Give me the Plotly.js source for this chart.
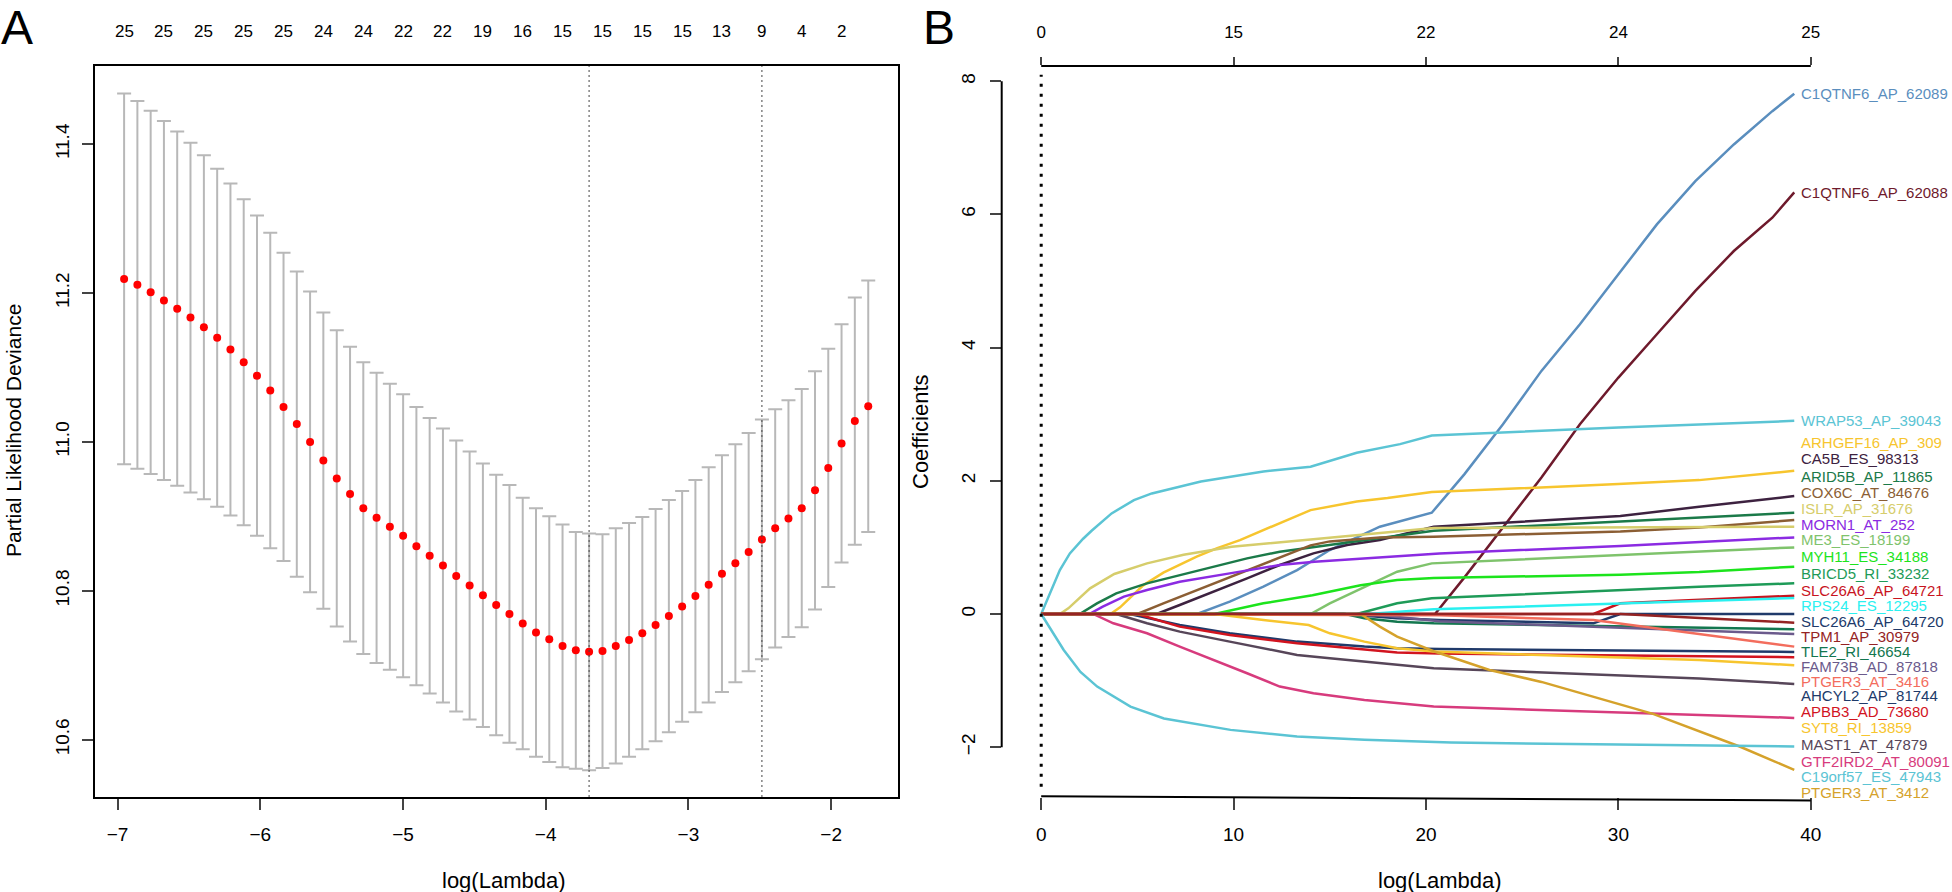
<!DOCTYPE html>
<html>
<head>
<meta charset="utf-8">
<script src="https://cdn.plot.ly/plotly-3.0.1.min.js"></script>
<style>
  html, body { margin: 0; padding: 0; background: #fff; }
  #chart { width: 1952px; height: 892px; }
</style>
</head>
<body>
<div id="chart"></div>
<script>
// ---- panel A: cross-validated partial likelihood deviance ----
var logLambda = [-6.954, -6.861, -6.768, -6.675, -6.582, -6.489, -6.395, -6.302, -6.209, -6.116,
  -6.023, -5.930, -5.837, -5.744, -5.651, -5.558, -5.464, -5.371, -5.278, -5.185,
  -5.092, -4.999, -4.906, -4.813, -4.720, -4.627, -4.533, -4.440, -4.347, -4.254,
  -4.161, -4.068, -3.975, -3.882, -3.789, -3.696, -3.602, -3.509, -3.416, -3.323,
  -3.230, -3.137, -3.044, -2.951, -2.858, -2.765, -2.671, -2.578, -2.485, -2.392,
  -2.299, -2.206, -2.113, -2.020, -1.927, -1.834, -1.740];
var cvMean = [11.219, 11.211, 11.201, 11.190, 11.179, 11.167, 11.154, 11.140, 11.124, 11.107,
  11.089, 11.069, 11.047, 11.024, 11.000, 10.975, 10.951, 10.930, 10.911, 10.898,
  10.886, 10.874, 10.860, 10.847, 10.834, 10.820, 10.807, 10.794, 10.781, 10.769,
  10.756, 10.744, 10.735, 10.726, 10.720, 10.718, 10.719, 10.726, 10.734, 10.743,
  10.754, 10.766, 10.779, 10.793, 10.808, 10.823, 10.837, 10.852, 10.869, 10.884,
  10.897, 10.911, 10.935, 10.965, 10.998, 11.028, 11.048];
var cvSd = [0.249, 0.247, 0.244, 0.241, 0.238, 0.235, 0.231, 0.227, 0.223, 0.219,
  0.215, 0.212, 0.207, 0.205, 0.202, 0.199, 0.199, 0.198, 0.196, 0.195,
  0.192, 0.190, 0.187, 0.185, 0.184, 0.182, 0.180, 0.177, 0.175, 0.173,
  0.169, 0.167, 0.165, 0.163, 0.159, 0.159, 0.157, 0.158, 0.157, 0.156,
  0.156, 0.156, 0.155, 0.156, 0.158, 0.159, 0.160, 0.160, 0.161, 0.160,
  0.159, 0.160, 0.160, 0.160, 0.160, 0.166, 0.169];
var lambdaMin = -3.696;
var lambda1se = -2.485;
// number of non-zero coefficients, printed above every third lambda
var nzCounts = [25, 25, 25, 25, 25, 24, 24, 22, 22, 19, 16, 15, 15, 15, 15, 13, 9, 4, 2];

// ---- panel B: coefficient paths ----
var normTicks = [0, 10, 20, 30, 40];
var dfTicks = ['0', '15', '22', '24', '25'];
var coefTicks = [-2, 0, 2, 4, 6, 8];

var geneNames = ['C1QTNF6_AP_62089', 'C1QTNF6_AP_62088', 'WRAP53_AP_39043', 'ARHGEF16_AP_309',
  'CA5B_ES_98313', 'ARID5B_AP_11865', 'COX6C_AT_84676', 'ISLR_AP_31676', 'MORN1_AT_252',
  'ME3_ES_18199', 'MYH11_ES_34188', 'BRICD5_RI_33232', 'SLC26A6_AP_64721', 'RPS24_ES_12295',
  'SLC26A6_AP_64720', 'TPM1_AP_30979', 'TLE2_RI_46654', 'FAM73B_AD_87818', 'PTGER3_AT_3416',
  'AHCYL2_AP_81744', 'APBB3_AD_73680', 'SYT8_RI_13859', 'MAST1_AT_47879', 'GTF2IRD2_AT_80091',
  'C19orf57_ES_47943', 'PTGER3_AT_3412'];

var pathX = [
  [0, 8.1, 9.8, 11.55, 13.3, 15.0, 17.6, 20.3, 22, 24, 26, 28, 30, 32, 34, 36, 38, 39.14],
  [0, 20.47, 22, 24, 26, 28, 30, 32, 34, 36, 38, 39.14],
  [0, 0.45, 0.97, 1.49, 2.18, 2.62, 3.66, 4.82, 5.75, 8.3, 11.55, 14.0, 16.4, 18.65, 20.3, 30.0, 39.14],
  [0, 3.6, 4.1, 5.3, 6.35, 8.08, 9.15, 10.33, 14.0, 16.4, 18.0, 20.3, 30.0, 34.2, 39.14],
  [0, 6.0, 7.2, 9.0, 10.7, 12.4, 14.15, 15.9, 17.6, 20.4, 30.1, 34.2, 39.14],
  [0, 2.0, 2.9, 3.9, 5.5, 7.2, 9.0, 10.7, 12.4, 14.1, 16.8, 20.4, 30.1, 39.14],
  [0, 5.0, 6.35, 8.1, 9.8, 11.55, 13.3, 14.0, 15.0, 17.6, 20.4, 30.1, 34.2, 39.14],
  [0, 0.97, 1.41, 2.54, 3.8, 5.5, 7.4, 9.9, 14.0, 17.6, 20.4, 39.14],
  [0, 2.5, 3.2, 4.3, 5.5, 7.2, 9.8, 12.4, 14.2, 16.8, 20.7, 30.1, 39.14],
  [0, 14.0, 15.0, 16.8, 18.5, 20.3, 34.2, 39.14],
  [0, 9.0, 11.55, 14.1, 16.6, 18.5, 20.4, 30.1, 34.2, 39.14],
  [0, 16.4, 18.5, 20.3, 34.2, 39.14],
  [0, 28.7, 30.1, 39.14],
  [0, 17.0, 20.4, 30.1, 39.14],
  [0, 15.7, 18.5, 20.7, 28.7, 30.1, 39.14],
  [0, 30.1, 39.14],
  [0, 15.8, 16.8, 18.5, 20.4, 34.2, 39.14],
  [0, 17.0, 20.7, 39.14],
  [0, 20.7, 28.7, 34.2, 39.14],
  [0, 4.6, 7.2, 9.8, 13.3, 16.8, 18.5, 20.7, 39.14],
  [0, 5.0, 7.2, 9.8, 13.3, 16.8, 18.5, 20.7, 39.14],
  [0, 9.0, 11.55, 13.9, 15.0, 16.8, 18.5, 20.4, 34.2, 39.14],
  [0, 3.9, 5.5, 7.2, 9.8, 13.3, 15.0, 16.8, 18.5, 20.4, 34.2, 39.14],
  [0, 2.7, 3.75, 5.5, 7.2, 9.0, 10.7, 12.4, 14.15, 16.8, 18.5, 20.4, 39.14],
  [0, 0.45, 1.17, 2.04, 2.91, 4.64, 6.38, 9.84, 13.3, 16.8, 21.3, 30.0, 39.14],
  [0, 16.6, 17.6, 18.5, 20.4, 23.3, 26.0, 28.6, 31.8, 36.3, 39.14]
];
var pathY = [
  [0, 0, 0.185, 0.41, 0.66, 0.96, 1.31, 1.52, 2.1, 2.85, 3.65, 4.35, 5.1, 5.85, 6.5, 7.05, 7.55, 7.81],
  [0, 0, 0.55, 1.3, 2.05, 2.85, 3.55, 4.2, 4.85, 5.45, 5.95, 6.33],
  [0, 0.31, 0.66, 0.91, 1.13, 1.25, 1.51, 1.71, 1.81, 1.99, 2.14, 2.21, 2.42, 2.55, 2.68, 2.80, 2.90],
  [0, 0, 0.1, 0.43, 0.62, 0.86, 0.99, 1.11, 1.56, 1.69, 1.74, 1.83, 1.95, 2.01, 2.15],
  [0, 0, 0.135, 0.335, 0.535, 0.735, 0.91, 1.035, 1.11, 1.31, 1.47, 1.61, 1.77],
  [0, 0, 0.16, 0.31, 0.46, 0.585, 0.71, 0.835, 0.935, 1.0, 1.11, 1.25, 1.39, 1.52],
  [0, 0, 0.16, 0.36, 0.56, 0.76, 0.96, 1.03, 1.09, 1.15, 1.16, 1.24, 1.30, 1.41],
  [0, 0, 0.085, 0.385, 0.6, 0.76, 0.89, 1.01, 1.12, 1.21, 1.29, 1.31],
  [0, 0, 0.11, 0.26, 0.36, 0.485, 0.61, 0.735, 0.785, 0.835, 0.91, 1.02, 1.15],
  [0, 0, 0.16, 0.41, 0.635, 0.76, 0.93, 1.0],
  [0, 0, 0.16, 0.28, 0.43, 0.51, 0.54, 0.59, 0.63, 0.71],
  [0, 0, 0.16, 0.235, 0.41, 0.46],
  [0, 0, 0.16, 0.275],
  [0, 0, 0.07, 0.16, 0.24],
  [0, 0, -0.065, -0.09, -0.14, 0, 0],
  [0, 0, -0.13],
  [0, 0, -0.065, -0.115, -0.14, -0.21, -0.23],
  [0, 0, -0.11, -0.30],
  [0, -0.02, -0.09, -0.30, -0.49],
  [0, 0, -0.165, -0.29, -0.415, -0.49, -0.515, -0.525, -0.57],
  [0, 0, -0.19, -0.315, -0.44, -0.54, -0.58, -0.595, -0.65],
  [0, 0, -0.09, -0.165, -0.29, -0.415, -0.515, -0.565, -0.69, -0.77],
  [0, 0, -0.14, -0.265, -0.415, -0.615, -0.665, -0.715, -0.765, -0.815, -0.97, -1.05],
  [0, 0, -0.14, -0.29, -0.49, -0.69, -0.89, -1.09, -1.19, -1.29, -1.34, -1.39, -1.56],
  [0, -0.21, -0.54, -0.87, -1.09, -1.39, -1.57, -1.74, -1.84, -1.89, -1.93, -1.96, -1.99],
  [0, 0, -0.19, -0.34, -0.56, -0.84, -1.02, -1.24, -1.5, -1.99, -2.34]
];
// where the gene names are written at the right-hand end
var labelY = [7.82, 6.33, 2.90, 2.57, 2.33, 2.07, 1.83, 1.58, 1.34, 1.12, 0.87, 0.61, 0.35,
  0.12, -0.12, -0.34, -0.57, -0.79, -1.01, -1.23, -1.47, -1.70, -1.96, -2.22, -2.44, -2.68];

var geneColors = ['#5a8ebe', '#6e1a2c', '#5bc4d4', '#f7c52e', '#3d2240', '#1b7a49', '#8b5e34',
  '#d6cd6b', '#8b2be2', '#7fc36c', '#1ce41c', '#1e9b58', '#c8141e', '#2af0f0', '#203a6a',
  '#952323', '#13774f', '#6b5a8c', '#f36d5d', '#203a6a', '#d2141f', '#f7c52e', '#574659',
  '#d73b7d', '#5bc4d4', '#d5a22b'];

var W = 1952, H = 892;
var FONT = 'Liberation Sans, Arial, Helvetica, sans-serif';
function px(x) { return x / W; }
function py(y) { return 1 - y / H; }

var traces = [];
traces.push({
  x: logLambda, y: cvMean, xaxis: 'x', yaxis: 'y',
  type: 'scatter', mode: 'markers',
  marker: {color: '#ff0000', size: 8},
  error_y: {type: 'data', array: cvSd, visible: true, color: '#b8b8b8', thickness: 2, width: 7},
  hoverinfo: 'skip'
});

// draw TPM1 last so its zero stretch sits on top, like the original;
// the lower teal path goes on the top (df) axis so that axis gets drawn
var order = [];
for (var i = 0; i < geneNames.length; i++) if (geneNames[i] !== 'TPM1_AP_30979') order.push(i);
order.push(geneNames.indexOf('TPM1_AP_30979'));
order.forEach(function (g) {
  traces.push({
    x: pathX[g], y: pathY[g],
    xaxis: geneNames[g] === 'C19orf57_ES_47943' ? 'x3' : 'x2', yaxis: 'y2',
    type: 'scatter', mode: 'lines', name: geneNames[g],
    line: {color: geneColors[g], width: 2.5},
    hoverinfo: 'skip'
  });
});

var annotations = [];
function note(o) {
  o.showarrow = false;
  if (!o.xanchor) o.xanchor = 'center';
  o.yanchor = 'middle';
  annotations.push(o);
}
note({text: 'A', x: px(17), y: py(28), xref: 'paper', yref: 'paper', font: {size: 48, family: FONT}});
note({text: 'B', x: px(939), y: py(28), xref: 'paper', yref: 'paper', font: {size: 48, family: FONT}});
nzCounts.forEach(function (n, k) {
  note({text: String(n), x: logLambda[k * 3], y: py(31), xref: 'x', yref: 'paper',
    font: {size: 17, family: FONT}});
});
geneNames.forEach(function (name, g) {
  note({text: name, x: 39.4, y: labelY[g], xref: 'x2', yref: 'y2', xanchor: 'left',
    font: {size: 15, family: FONT, color: geneColors[g]}});
});
note({text: 'log(Lambda)', x: px(504), y: py(880), xref: 'paper', yref: 'paper', font: {size: 22, family: FONT}});
note({text: 'log(Lambda)', x: px(1440), y: py(880), xref: 'paper', yref: 'paper', font: {size: 22, family: FONT}});
note({text: 'Partial Likelihood Deviance', x: px(13), y: py(431), xref: 'paper', yref: 'paper',
  textangle: -90, font: {size: 21, family: FONT}});
note({text: 'Coefficients', x: px(920), y: py(432), xref: 'paper', yref: 'paper',
  textangle: -90, font: {size: 22, family: FONT}});

var yDom = [py(797), py(66)];
var xRangeB = [(1001.7 - 1041.2) / 19.24, (1952 - 1041.2) / 19.24];

var layout = {
  width: W, height: H,
  margin: {l: 0, r: 0, t: 0, b: 0},
  paper_bgcolor: '#fff', plot_bgcolor: '#fff',
  showlegend: false,
  font: {family: FONT, color: '#000'},
  xaxis: {
    domain: [px(95), px(897.5)], range: [-7.158, -1.535], anchor: 'y',
    tickvals: [-7, -6, -5, -4, -3, -2], ticks: 'outside', ticklen: 11, tickwidth: 2,
    showline: true, mirror: true, linecolor: '#000', linewidth: 2,
    showgrid: false, zeroline: false, tickfont: {size: 19}, ticklabelstandoff: 8
  },
  yaxis: {
    domain: yDom, range: [10.523, 11.505], anchor: 'x',
    tickvals: [10.6, 10.8, 11.0, 11.2, 11.4], ticktext: ['10.6', '10.8', '11.0', '11.2', '11.4'],
    tickangle: -90, ticks: 'outside', ticklen: 11, tickwidth: 2,
    showline: true, mirror: true, linecolor: '#000', linewidth: 2,
    showgrid: false, zeroline: false, tickfont: {size: 19}, ticklabelstandoff: 5
  },
  xaxis2: {
    domain: [px(1001.7), 1], range: xRangeB, anchor: 'y2',
    tickvals: normTicks, ticks: 'outside', ticklen: 12, tickwidth: 2,
    showline: false, showgrid: false, zeroline: false, tickfont: {size: 19}, ticklabelstandoff: 8
  },
  xaxis3: {
    overlaying: 'x2', matches: 'x2', anchor: 'y2', side: 'top', range: xRangeB,
    tickvals: normTicks, ticktext: dfTicks, ticks: 'outside', ticklen: 8, tickwidth: 2,
    showline: false, showgrid: false, zeroline: false, tickfont: {size: 17}, ticklabelstandoff: 12
  },
  yaxis2: {
    domain: yDom, range: [-2.748, 8.228], anchor: 'x2',
    tickvals: coefTicks, tickangle: -90, ticks: 'outside', ticklen: 11, tickwidth: 2,
    showline: false, showgrid: false, zeroline: false, tickfont: {size: 19}, ticklabelstandoff: 7
  },
  shapes: [
    {type: 'line', xref: 'x', yref: 'y domain', x0: lambdaMin, x1: lambdaMin, y0: 0, y1: 1,
      line: {color: '#444', width: 1, dash: '2px,3px'}},
    {type: 'line', xref: 'x', yref: 'y domain', x0: lambda1se, x1: lambda1se, y0: 0, y1: 1,
      line: {color: '#444', width: 1, dash: '2px,3px'}},
    {type: 'line', xref: 'x2', yref: 'y2 domain', x0: 0, x1: 0, y0: 0.014, y1: 0.988,
      line: {color: '#000', width: 3, dash: '3px,7px'}},
    {type: 'line', xref: 'x2 domain', yref: 'y2', x0: 0, x1: 0, y0: -2, y1: 8,
      line: {color: '#000', width: 2}},
    {type: 'line', xref: 'x2', yref: 'y2 domain', x0: 0, x1: 40, y0: 1, y1: 1,
      line: {color: '#000', width: 2}},
    {type: 'line', xref: 'x2', yref: 'paper', x0: 0, x1: 40, y0: py(796.3), y1: py(800.5),
      line: {color: '#000', width: 2}}
  ],
  annotations: annotations
};

Plotly.newPlot('chart', traces, layout, {staticPlot: true});
</script>
</body>
</html>
